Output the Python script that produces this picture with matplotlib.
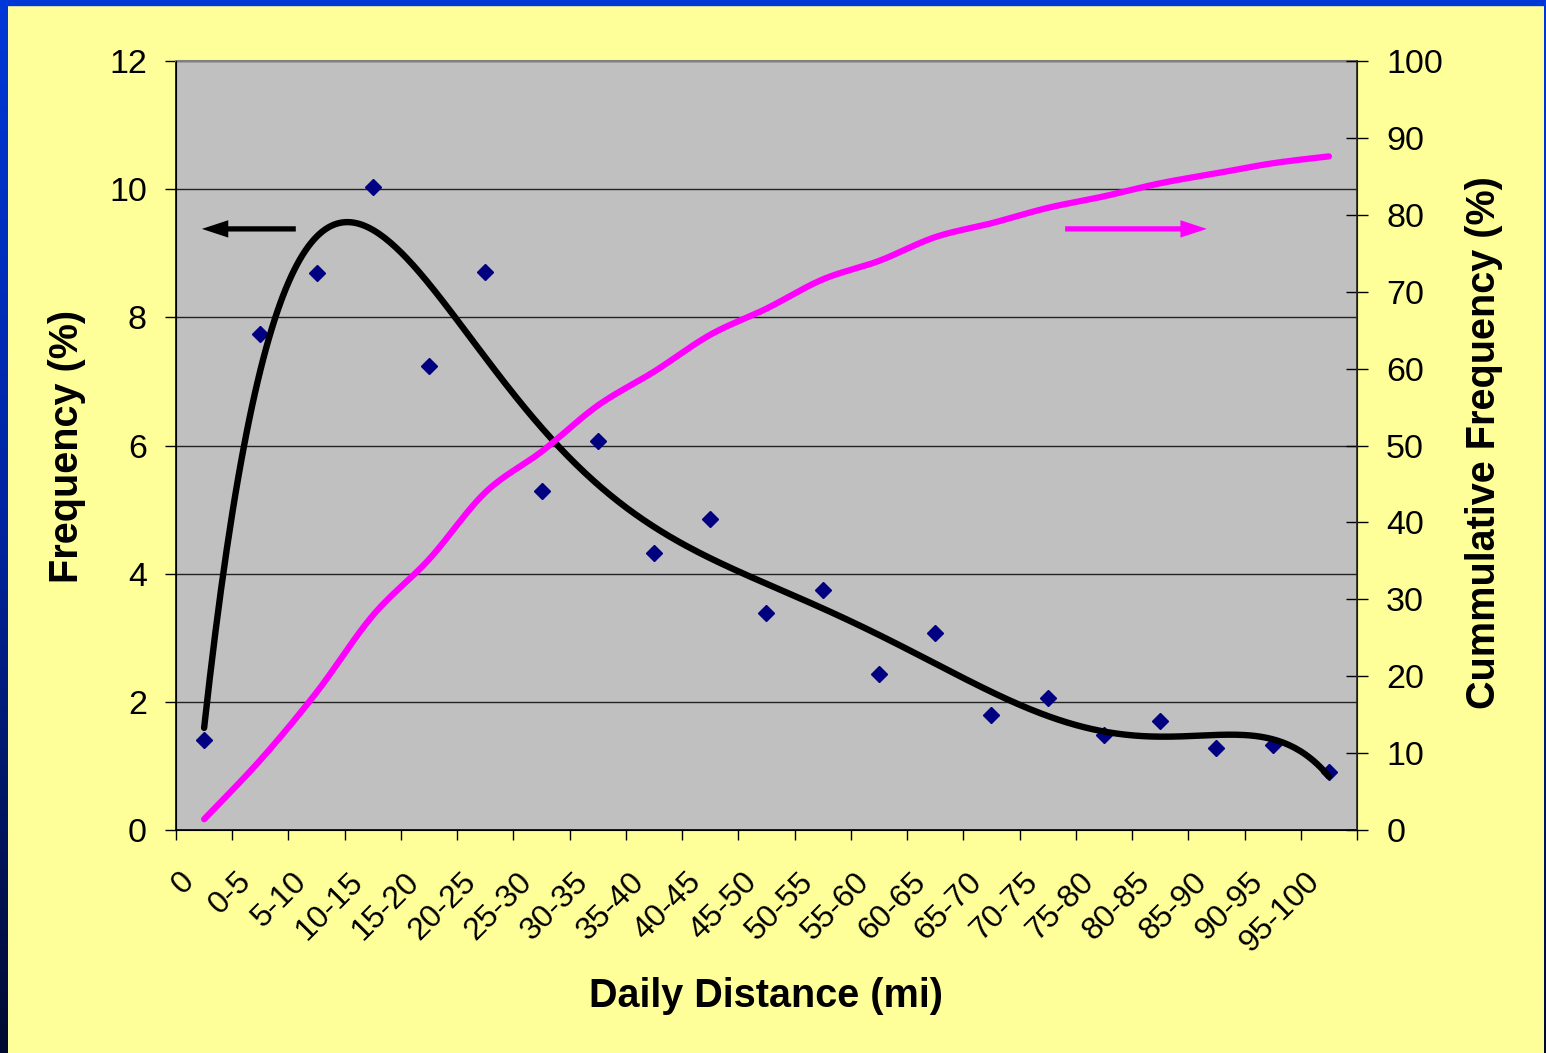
import numpy as np
import matplotlib
matplotlib.use('Agg')
import matplotlib.pyplot as plt
from matplotlib.colors import LinearSegmentedColormap
from matplotlib.patches import Rectangle
from matplotlib.transforms import ScaledTranslation

distance_bins = ['0', '0-5', '5-10', '10-15', '15-20', '20-25', '25-30', '30-35',
                 '35-40', '40-45', '45-50', '50-55', '55-60', '60-65', '65-70',
                 '70-75', '75-80', '80-85', '85-90', '90-95', '95-100']
frequency = [1.40, 7.74, 8.69, 10.03, 7.24, 8.71, 5.29, 6.07, 4.32, 4.85, 3.39,
             3.75, 2.43, 3.07, 1.79, 2.06, 1.48, 1.70, 1.28, 1.33, 0.91]
cumulative = [1.4, 9.1, 17.9, 27.9, 35.2, 43.9, 49.2, 55.2, 59.6, 64.4, 67.8,
              71.6, 74.0, 77.1, 78.9, 80.9, 82.4, 84.1, 85.4, 86.7, 87.6]
freq_ticks = [0, 2, 4, 6, 8, 10, 12]
cum_ticks = [0, 10, 20, 30, 40, 50, 60, 70, 80, 90, 100]

W, H = 1546, 1053
YELLOW = '#FFFF99'
PLOT_GRAY = '#C0C0C0'
MAGENTA = '#FF00FF'
NAVY = '#000080'


def smooth_curve(x, y, steps=24):
    # Catmull-Rom style bezier through every point (like a "smoothed line")
    x = np.asarray(x, float)
    y = np.asarray(y, float)
    px = np.concatenate([[x[0]], x, [x[-1]]])
    py = np.concatenate([[y[0]], y, [y[-1]]])
    t = np.linspace(0, 1, steps)[:, None]
    xs, ys = [], []
    for i in range(1, len(px) - 2):
        p0 = np.array([px[i], py[i]])
        p3 = np.array([px[i + 1], py[i + 1]])
        c1 = p0 + (p3 - np.array([px[i - 1], py[i - 1]])) / 6
        c2 = p3 - (np.array([px[i + 2], py[i + 2]]) - p0) / 6
        seg = ((1 - t) ** 3) * p0 + 3 * ((1 - t) ** 2) * t * c1 \
            + 3 * (1 - t) * t ** 2 * c2 + t ** 3 * p3
        xs.append(seg[:, 0])
        ys.append(seg[:, 1])
    return np.concatenate(xs), np.concatenate(ys)


plt.rcParams['font.family'] = ['Liberation Sans', 'DejaVu Sans']

fig = plt.figure(figsize=(W / 100, H / 100), dpi=100, facecolor=YELLOW)

# blue frame around the slide
edge_cmap = LinearSegmentedColormap.from_list('edge', ['#0038D8', '#0024A0', '#000A30'])
grad = np.linspace(0, 1, 256)[:, None]
for left, width in [(0, 8), (W - 2, 2)]:
    eax = fig.add_axes([left / W, 0, width / W, 1])
    eax.imshow(grad, aspect='auto', cmap=edge_cmap, extent=[0, 1, 0, 1])
    eax.set_axis_off()
fig.patches.append(Rectangle((0, 1 - 5 / H), 1, 5 / H, transform=fig.transFigure,
                             color='#0038D8', zorder=5))

ax = fig.add_axes([176 / W, (H - 830) / H, 1181 / W, 769 / H])
ax.set_facecolor(PLOT_GRAY)
ax2 = ax.twinx()

xc = np.arange(len(distance_bins)) + 0.5

# scatter of bin frequencies with a 6th order polynomial trend
ax.plot(xc, frequency, 'D', ms=8, color=NAVY, zorder=2)
cat_index = np.arange(1, len(frequency) + 1)
coef = np.polyfit(cat_index, frequency, 6)
fine = np.linspace(1, len(frequency), 400)
ax.plot(fine - 0.5, np.polyval(coef, fine), color='black', lw=4.6,
        solid_capstyle='round', zorder=3)

sx, sy = smooth_curve(xc, cumulative)
ax2.plot(sx, sy, color=MAGENTA, lw=4.5, solid_capstyle='round', zorder=3)

ax.set_xlim(0, len(distance_bins))
ax.set_ylim(0, 12)
ax2.set_ylim(0, 100)

ax.set_yticks(freq_ticks)
ax.set_yticklabels([str(v) for v in freq_ticks])
ax2.set_yticks(cum_ticks)
ax2.set_yticklabels([str(v) for v in cum_ticks])

ax.set_xticks(np.arange(len(distance_bins) + 1))
ax.set_xticklabels([])
ax.set_xticks(xc, minor=True)
ax.set_xticklabels(distance_bins, minor=True)

ax.set_axisbelow(True)
ax.grid(axis='y', color='#222222', lw=1)

ax.tick_params(axis='x', which='major', length=7, width=1, direction='out')
ax.tick_params(axis='x', which='minor', length=0, pad=34, labelsize=23)
ax.tick_params(axis='y', length=8, width=1, direction='out', pad=13, labelsize=24.5)
ax2.tick_params(axis='y', length=16, width=1, direction='inout', pad=13, labelsize=24.5)

shift = ScaledTranslation(-0.14, 0, fig.dpi_scale_trans)
for lbl in ax.get_xticklabels(minor=True):
    lbl.set_rotation(45)
    lbl.set_rotation_mode('anchor')
    lbl.set_ha('right')
    lbl.set_va('center')
    lbl.set_transform(lbl.get_transform() + shift)

for s in ('left', 'bottom'):
    ax.spines[s].set_color('black')
    ax.spines[s].set_linewidth(1.2)
ax.spines['top'].set_color('#808080')
ax.spines['top'].set_linewidth(1.5)
ax2.spines['right'].set_color('#222222')
ax2.spines['right'].set_linewidth(1.2)
ax2.spines['top'].set_visible(False)

# direction arrows pointing each curve to its axis
arrow_style = 'simple,head_length=19,head_width=12.5,tail_width=3.8'
ax.annotate('', xy=(0.46, 9.38), xytext=(2.13, 9.38),
            arrowprops=dict(arrowstyle=arrow_style, mutation_scale=1,
                            color='black', lw=0, shrinkA=0, shrinkB=0))
ax.annotate('', xy=(18.33, 9.38), xytext=(15.81, 9.38),
            arrowprops=dict(arrowstyle=arrow_style, mutation_scale=1,
                            color=MAGENTA, lw=0, shrinkA=0, shrinkB=0))

fig.text(67.5 / W, (H - 446) / H, 'Frequency (%)', rotation=90, fontsize=28.5,
         fontweight='bold', ha='center', va='center')
fig.text(1484 / W, (H - 443) / H, 'Cummulative Frequency (%)', rotation=90,
         fontsize=28.5, fontweight='bold', ha='center', va='center')
fig.text(766 / W, (H - 996) / H, 'Daily Distance (mi)', fontsize=28.5,
         fontweight='bold', ha='center', va='center')

fig.savefig('out.png', dpi=100, facecolor=YELLOW)
